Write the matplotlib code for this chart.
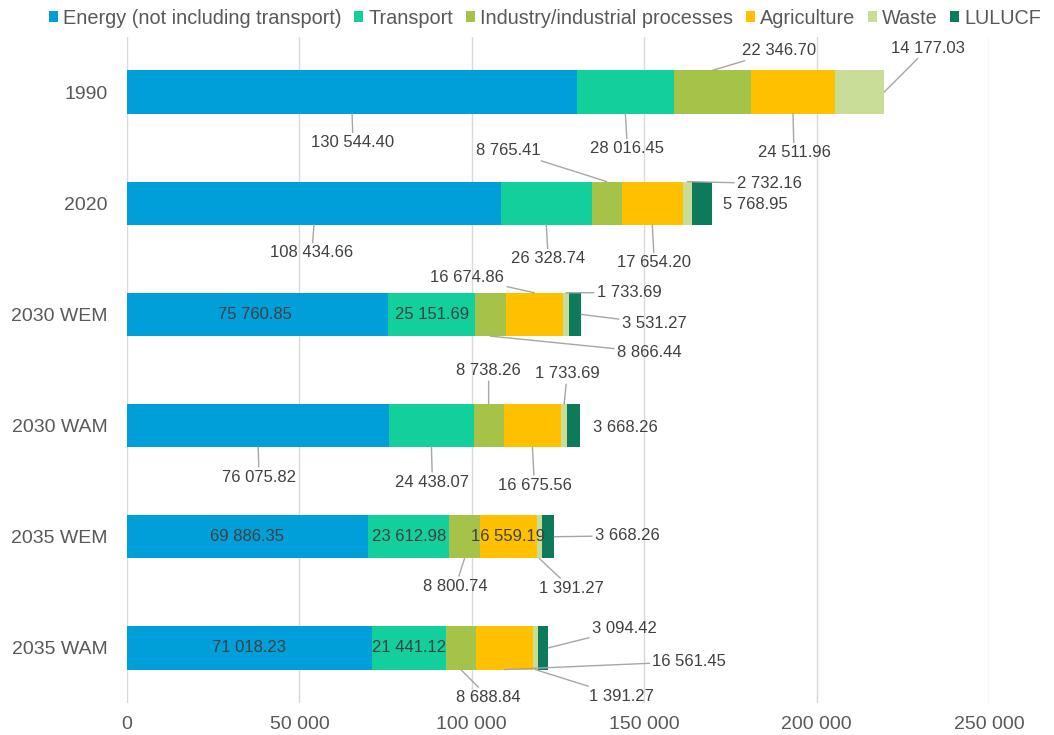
import matplotlib
matplotlib.use("Agg")
import matplotlib.pyplot as plt
from matplotlib.ticker import FuncFormatter
import numpy as np

plt.rcParams['font.family'] = ['Liberation Sans', 'DejaVu Sans']

categories = ['1990', '2020', '2030 WEM', '2030 WAM', '2035 WEM', '2035 WAM']
series_names = ['Energy (not including transport)', 'Transport', 'Industry/industrial processes',
                'Agriculture', 'Waste', 'LULUCF']
energy = [130544.40, 108434.66, 75760.85, 76075.82, 69886.35, 71018.23]
transport = [28016.45, 26328.74, 25151.69, 24438.07, 23612.98, 21441.12]
industry = [22346.70, 8765.41, 8866.44, 8738.26, 8800.74, 8688.84]
agriculture = [24511.96, 17654.20, 16674.86, 16675.56, 16559.19, 16561.45]
waste = [14177.03, 2732.16, 1733.69, 1733.69, 1391.27, 1391.27]
lulucf = [0, 5768.95, 3531.27, 3668.26, 3668.26, 3094.42]

colors = ['#009FDA', '#13CF9B', '#A5C249', '#FFC000', '#C9DC98', '#0E7A5C']
text_col = '#595959'
label_col = '#404040'
line_col = '#A6A6A6'

# label placement: (category, series) -> (anchor, dx px, dy px down, leader line)
placement = {
    (0, 0): ('bottom', 1, 29, True), (0, 1): ('bottom', 2, 35, True),
    (0, 2): ('top', 67, -20, True), (0, 3): ('bottom', 1, 39, True),
    (0, 4): ('right', 44, -44, True),
    (1, 0): ('bottom', -2, 28, True), (1, 1): ('bottom', 2, 34, True),
    (1, 2): ('top', -98, -31, True), (1, 3): ('bottom', 2, 38, True),
    (1, 4): ('top', 82, 2, True), (1, 5): ('right', 43, 1, False),
    (2, 0): ('in', -3, 0, False), (2, 1): ('in', 0, 0, False),
    (2, 2): ('bottom', 159, 16, True), (2, 3): ('top', -67, -15, True),
    (2, 4): ('top', 63, 0, True), (2, 5): ('right', 73, 9, True),
    (3, 0): ('bottom', 1, 30, True), (3, 1): ('bottom', 1, 35, True),
    (3, 2): ('top', 0, -33, True), (3, 3): ('bottom', 2, 38, True),
    (3, 4): ('top', 3, -30, True), (3, 5): ('right', 46, 2, False),
    (4, 0): ('in', 0, 0, False), (4, 1): ('in', 0, 0, False),
    (4, 2): ('bottom', -9, 28, True), (4, 3): ('in', 0, 0, False),
    (4, 4): ('bottom', 32, 30, True), (4, 5): ('right', 73, -1, True),
    (5, 0): ('in', 0, 0, False), (5, 1): ('in', 0, 0, False),
    (5, 2): ('bottom', 28, 28, True), (5, 3): ('bottom', 185, -8, True),
    (5, 4): ('bottom', 86, 27, True), (5, 5): ('right', 76, -19, True),
}

fig = plt.figure(figsize=(10.54, 7.35), dpi=100)
ax = fig.add_axes([0.1205, 0.0429, 0.8178, 0.9074])

data = [energy, transport, industry, agriculture, waste, lulucf]
y = np.arange(len(categories))
h = 0.39
left = np.zeros(len(categories))
for s, (vals, col, name) in enumerate(zip(data, colors, series_names)):
    vals = np.array(vals)
    ax.barh(y, vals, left=left, height=h, color=col, label=name, zorder=3)
    for i, v in enumerate(vals):
        if v == 0 or (i, s) not in placement:
            continue
        anchor, dx, dy, leader = placement[(i, s)]
        cx = left[i] + v / 2
        if anchor == 'top':
            xy = (cx, i - h / 2)
        elif anchor == 'bottom':
            xy = (cx, i + h / 2)
        elif anchor == 'right':
            xy = (left[i] + v, i)
        else:
            xy = (cx, i)
        txt = f"{v:,.2f}".replace(",", " ")
        kw = dict(arrowprops=dict(arrowstyle='-', color=line_col, lw=1,
                                  shrinkA=0, shrinkB=0)) if leader else {}
        ax.annotate(txt, xy=xy, xytext=(dx, -dy), textcoords='offset pixels',
                    ha='center', va='center', fontsize=12, color=label_col,
                    zorder=5, **kw)
    left += vals

ax.set_xlim(0, 250000)
ax.set_ylim(len(categories) - 0.5, -0.5)
ax.set_yticks(y)
ax.set_yticklabels(categories)
ax.set_xticks(np.arange(0, 250001, 50000))
ax.xaxis.set_major_formatter(FuncFormatter(lambda v, p: f"{int(v):,}".replace(",", " ")))
ax.grid(axis='x', color='#D9D9D9', lw=1, zorder=0)
for sp in ax.spines.values():
    sp.set_visible(False)
ax.tick_params(axis='both', length=0, labelsize=14, labelcolor=text_col)
ax.tick_params(axis='y', pad=14)
ax.tick_params(axis='x', pad=9)

fig.legend(loc='center', bbox_to_anchor=(0.517, 0.9755), ncol=6, frameon=False,
           fontsize=14.3, handlelength=0.45, handleheight=0.45, handletextpad=0.25,
           columnspacing=0.65, borderpad=0, labelcolor=text_col)

fig.savefig('out.png', dpi=100)
